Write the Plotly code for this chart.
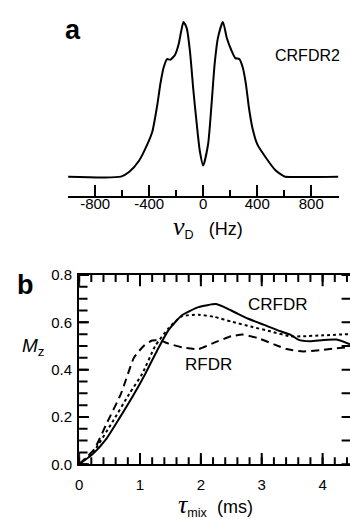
import plotly.graph_objects as go

# Panel a: CRFDR2 deuterium spectrum
nu_hz = [-1000, -609, -547, -474, -414, -377, -341, -317, -292, -268, -244, -207, -182, -163, -146,
         -122, -98, -73, -49, -25, 0, 36, 61, 85, 109, 146, 175, 207, 238, 267, 292, 316, 340,
         365, 401, 462, 535, 596, 608, 1000]
intensity = [0, 0, 0.031, 0.104, 0.208, 0.29, 0.458, 0.60, 0.708, 0.76, 0.755, 0.79, 0.855, 0.94, 1.0,
             0.96, 0.81, 0.56, 0.35, 0.166, 0.072, 0.208, 0.458, 0.73, 0.896, 1.0, 0.896, 0.82, 0.766,
             0.76, 0.708, 0.60, 0.437, 0.3125, 0.208, 0.125, 0.041, 0.004, 0, 0]

# Panel b: Mz build-up
t_crfdr = [0, 0.227, 0.44, 0.66, 0.90, 1.09, 1.28, 1.47, 1.69, 1.96, 2.25, 2.50, 2.77, 3.04, 3.31,
           3.47, 3.60, 3.79, 4.01, 4.23, 4.45]
mz_crfdr = [0, 0.044, 0.105, 0.194, 0.296, 0.384, 0.48, 0.568, 0.63, 0.664, 0.677, 0.65, 0.616,
            0.589, 0.562, 0.548, 0.527, 0.52, 0.525, 0.527, 0.507]

t_crfdr2 = [0, 0.227, 0.55, 0.82, 1.04, 1.25, 1.47, 1.69, 1.96, 2.22, 2.50, 2.82, 3.14, 3.47,
            3.68, 4.01, 4.45]
mz_crfdr2 = [0, 0.05, 0.18, 0.296, 0.384, 0.50, 0.575, 0.626, 0.632, 0.623, 0.603, 0.582, 0.562,
             0.541, 0.541, 0.545, 0.55]

t_rfdr = [0, 0.25, 0.44, 0.69, 0.90, 1.06, 1.20, 1.33, 1.47, 1.71, 1.96, 2.22, 2.50, 2.69, 2.93,
          3.20, 3.41, 3.68, 3.95, 4.23, 4.45]
mz_rfdr = [0, 0.064, 0.166, 0.30, 0.45, 0.50, 0.523, 0.523, 0.51, 0.493, 0.487, 0.514, 0.541,
           0.548, 0.534, 0.507, 0.487, 0.477, 0.482, 0.49, 0.496]

a_ticks = [-800, -400, 0, 400, 800]
a_ticktext = ["-800", "-400", "0", "400", "800"]
b_xticks = [0, 1, 2, 3, 4]
b_yticks = [0.0, 0.2, 0.4, 0.6, 0.8]
b_yticktext = ["0.0", "0.2", "0.4", "0.6", "0.8"]

# tick grids (axis configuration)
a_minor = [-1000 + 200 * i for i in range(11)]
b_xminor = [round(0.2 * i, 2) for i in range(23)]
b_yminor = [round(0.05 * i, 2) for i in range(17)]
b_yright = [round(0.1 * i, 1) for i in range(9)]
B_XMAX, B_YMAX = 4.45, 0.8

W, H = 350, 519
FONT = "Liberation Sans, Arial, sans-serif"


def py(px):
    return 1 - px / H


def pxx(px):
    return px / W


fig = go.Figure()

fig.add_trace(go.Scatter(x=nu_hz, y=intensity, mode="lines", line=dict(color="black", width=2, shape="spline", smoothing=0.6),
                         xaxis="x2", yaxis="y2", showlegend=False, hoverinfo="skip"))
fig.add_trace(go.Scatter(x=t_crfdr, y=mz_crfdr, mode="lines", line=dict(color="black", width=2, shape="spline", smoothing=0.5),
                         xaxis="x", yaxis="y", showlegend=False))
fig.add_trace(go.Scatter(x=t_crfdr2, y=mz_crfdr2, mode="lines", line=dict(color="black", width=2, dash="dot", shape="spline", smoothing=0.5),
                         xaxis="x", yaxis="y", showlegend=False))
fig.add_trace(go.Scatter(x=t_rfdr, y=mz_rfdr, mode="lines", line=dict(color="black", width=2, dash="8px,5px", shape="spline", smoothing=0.5),
                         xaxis="x", yaxis="y", showlegend=False))


# panel b frame ticks, drawn as clipped tick-shaped markers sitting on the frame (inside half shows)
def tick_marks(xs, ys, symbol, size):
    fig.add_trace(go.Scatter(x=xs, y=ys, mode="markers", cliponaxis=True, xaxis="x", yaxis="y",
                             marker=dict(symbol=symbol, size=size, color="black", line=dict(width=2, color="black")),
                             showlegend=False, hoverinfo="skip"))


for yv in (0, B_YMAX):
    tick_marks(b_xminor, [yv] * len(b_xminor), "line-ns", 10)
    tick_marks(b_xticks, [yv] * len(b_xticks), "line-ns", 16)
tick_marks([0] * len(b_yminor), b_yminor, "line-ew", 12)
tick_marks([0] * len(b_yticks), b_yticks, "line-ew", 14)
tick_marks([B_XMAX] * len(b_yright), b_yright, "line-ew", 12)

# panel a baseline axis line overlay
fig.add_trace(go.Scatter(x=[0], y=[0], mode="markers", marker=dict(opacity=0), xaxis="x5", yaxis="y2",
                         showlegend=False, hoverinfo="skip"))

TK = dict(tickwidth=2, tickcolor="black", showgrid=False, zeroline=False, showline=False)
LINE = dict(showline=True, linecolor="black", linewidth=2, ticks="", showticklabels=False,
            showgrid=False, zeroline=False)

fig.update_layout(
    width=W, height=H,
    margin=dict(l=0, r=0, t=0, b=0),
    paper_bgcolor="white", plot_bgcolor="white",
    font=dict(family=FONT, color="black", size=15),
    # panel b
    xaxis=dict(domain=[pxx(76), 1.0], range=[0, B_XMAX], anchor="y",
               showline=True, linecolor="black", linewidth=2, mirror=True,
               ticks="", tickvals=b_xticks, showgrid=False, zeroline=False,
               tickfont=dict(size=15, family=FONT), ticklabelstandoff=6),
    yaxis=dict(domain=[py(470.7), py(275)], range=[0, B_YMAX], anchor="x",
               showline=True, linecolor="black", linewidth=2,
               ticks="", tickvals=b_yticks, ticktext=b_yticktext, showgrid=False, zeroline=False,
               tickfont=dict(size=15, family=FONT), ticklabelstandoff=2),
    # panel a
    xaxis2=dict(domain=[pxx(64.5), pxx(338.5)], range=[-1003, 1003], anchor="y2",
                ticks="inside", ticklen=11, tickvals=a_ticks, ticktext=a_ticktext,
                minor=dict(tickvals=a_minor, ticks="inside", ticklen=6, tickwidth=2, tickcolor="black", showgrid=False),
                tickfont=dict(size=15, family=FONT), ticklabelstandoff=-3, **TK),
    xaxis5=dict(overlaying="x2", anchor="y2", range=[-1003, 1003], **LINE),
    yaxis2=dict(domain=[py(193), py(5)], range=[-0.123, 1.052], anchor="x2", visible=False),
)

annos = [
    dict(text="<b>a</b>", x=pxx(70), y=py(22), font=dict(size=27)),
    dict(text="CRFDR2", x=pxx(307), y=py(48), font=dict(size=16)),
    dict(text="<span style='font-family:Liberation Serif;font-style:italic;font-size:26px'>ν</span>"
              "<sub>D</sub>&nbsp;&nbsp;&nbsp;(Hz)", x=pxx(206), y=py(225), font=dict(size=18)),
    dict(text="<b>b</b>", x=pxx(22), y=py(285), font=dict(size=27)),
    dict(text="<i>M</i><sub>z</sub>", x=pxx(29), y=py(349), font=dict(size=19)),
    dict(text="CRFDR", x=pxx(277), y=py(306), font=dict(size=17)),
    dict(text="RFDR", x=pxx(207), y=py(368), font=dict(size=17)),
    dict(text="<span style='font-family:Liberation Serif;font-style:italic;font-size:26px'>τ</span>"
              "<sub>mix</sub>&nbsp;&nbsp;(ms)", x=pxx(214), y=py(513), font=dict(size=18)),
]
for a in annos:
    fig.add_annotation(xref="paper", yref="paper", showarrow=False, xanchor="center", yanchor="middle", **a)

fig.write_html("out.html")
